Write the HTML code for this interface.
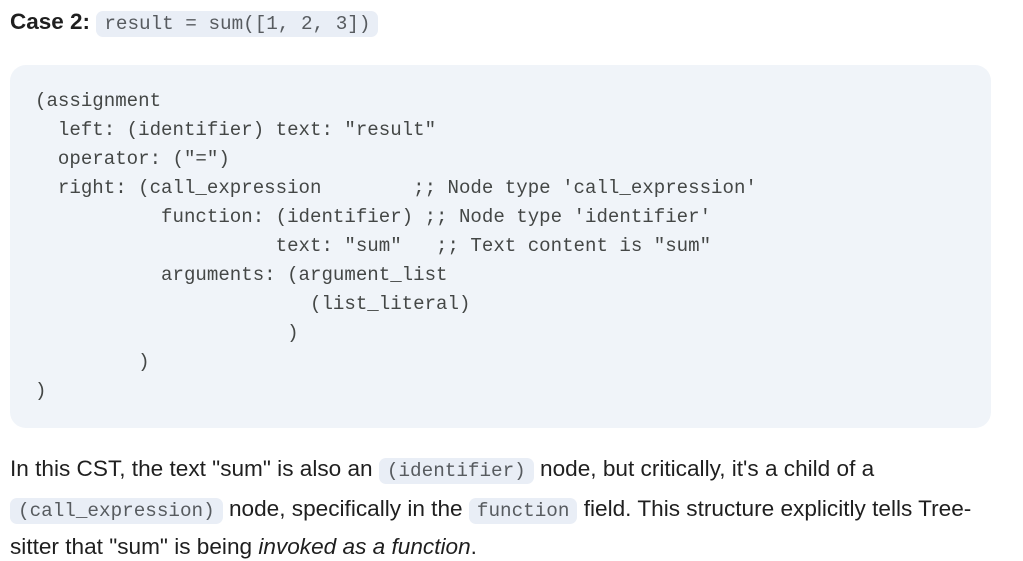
<!DOCTYPE html>
<html><head><meta charset="utf-8"><style>
body{margin:0;width:1023px;height:561px;background:#fff;position:relative;overflow:hidden;font-family:"Liberation Sans",sans-serif;color:#1f1f1f}
.h{position:absolute;left:10px;top:8px;font-size:22.5px;font-weight:bold;line-height:28px;white-space:nowrap}
.ic{font-family:"Liberation Mono",monospace;font-weight:normal;font-size:19.3px;color:#575b5f;background:#e9eef6;border-radius:7px;padding:2px 8px}
.box{position:absolute;left:10px;top:65px;width:981px;height:363px;background:#f0f4f9;border-radius:16px}
.code{position:absolute;left:35px;top:87px;margin:0;font-family:"Liberation Mono",monospace;font-size:19.1px;line-height:29px;color:#444746;white-space:pre}
.p{position:absolute;left:10px;font-size:22.6px;line-height:28px;white-space:nowrap;color:#1f1f1f}
</style></head><body>
<div class="h">Case 2: <span class="ic">result = sum([1, 2, 3])</span></div>
<div class="box"></div>
<pre class="code">(assignment
  left: (identifier) text: "result"
  operator: ("=")
  right: (call_expression        ;; Node type 'call_expression'
           function: (identifier) ;; Node type 'identifier'
                     text: "sum"   ;; Text content is "sum"
           arguments: (argument_list
                        (list_literal)
                      )
         )
)</pre>
<div class="p" style="top:455px">In this CST, the text "sum" is also an <span class="ic">(identifier)</span> node, but critically, it's a child of a</div>
<div class="p" style="top:495px"><span class="ic">(call_expression)</span> node, specifically in the <span class="ic">function</span> field. This structure explicitly tells Tree-</div>
<div class="p" style="top:533px">sitter that "sum" is being <i>invoked as a function</i>.</div>
</body></html>
